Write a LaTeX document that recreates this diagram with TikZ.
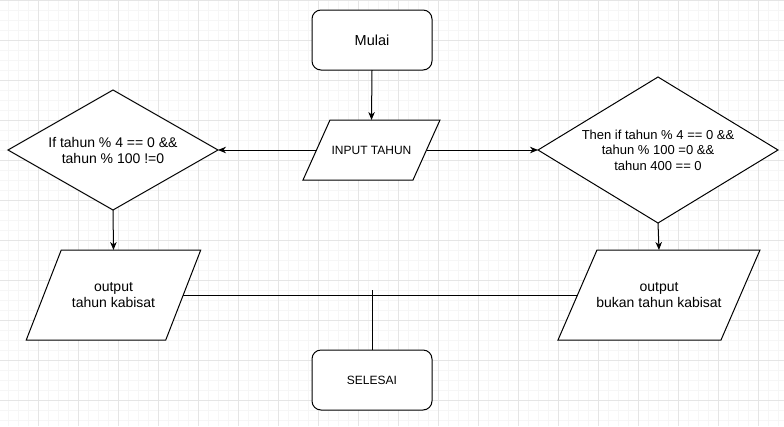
\documentclass[tikz,border=0pt]{standalone}
\usepackage{fontspec}
\setmainfont{Liberation Sans}
\usetikzlibrary{shapes.geometric,arrows.meta}
\definecolor{gridminor}{HTML}{F6F6F6}
\definecolor{gridmajor}{HTML}{E5E5E5}
\pgfdeclarelayer{bg}
\pgfsetlayers{bg,main}
\begin{document}
\begin{tikzpicture}[x=1pt,y=-1pt,
  base/.style={line width=1pt, align=center, text=black, inner sep=0pt, outer sep=0pt},
  term/.style={base, draw=black, fill=white, rounded corners=9pt, minimum width=120pt, minimum height=60pt},
  decision/.style={base, draw=black, fill=white, diamond},
  iobox/.style={base, rectangle},
  para/.style={draw=black, fill=white, line width=1pt, line join=miter},
  conn/.style={draw=black, line width=1pt},
  arr/.style={conn, -{Stealth[length=8pt,width=6.5pt,inset=2.5pt]}}]
\useasboundingbox (0,0) rectangle (784,426);
\begin{pgfonlayer}{bg}
  \fill[white] (0,0) rectangle (784,426);
  \foreach \x in {8,18,...,778} \draw[gridminor, line width=1pt] (\x,0) -- (\x,426);
  \foreach \y in {10,20,...,420} \draw[gridminor, line width=1pt] (0,\y) -- (784,\y);
  \foreach \x in {38,78,...,758} \draw[gridmajor, line width=1pt] (\x,0) -- (\x,426);
  \foreach \y in {0,40,...,400} \draw[gridmajor, line width=1pt] (0,\y) -- (784,\y);
\end{pgfonlayer}

\node[term, font=\fontsize{14.5}{17}\selectfont] (mulai) at (372,40) {Mulai};
\node[iobox, minimum width=110pt, minimum height=60pt, font=\fontsize{12}{14}\selectfont] (input) at (371.5,150) {INPUT TAHUN};
\node[decision, shape aspect=1.75, minimum width=210pt, minimum height=120pt, font=\fontsize{14}{16}\selectfont] (d1) at (113,150) {If tahun \% 4 == 0 \&\&\\tahun \% 100 !=0};
\node[decision, shape aspect=1.64, minimum width=240pt, minimum height=146pt, font=\fontsize{13}{15.5}\selectfont] (d2) at (658,150) {Then if tahun \% 4 == 0 \&\&\\tahun \% 100 =0 \&\&\\tahun 400 == 0};
\node[iobox, minimum width=139.5pt, minimum height=90pt, font=\fontsize{14}{16.5}\selectfont] (o1) at (113.5,295) {output\\tahun kabisat};
\node[iobox, minimum width=163pt, minimum height=90pt, font=\fontsize{14}{16.5}\selectfont] (o2) at (659,295) {output\\bukan tahun kabisat};
\node[term, font=\fontsize{12}{14}\selectfont] (selesai) at (372,380) {SELESAI};
\coordinate (junction) at (372,290);

\begin{pgfonlayer}{bg}
  \path[para] ([xshift=-13.5pt]input.south west) -- ([xshift=13.5pt]input.north west) -- ([xshift=13.5pt]input.north east) -- ([xshift=-13.5pt]input.south east) -- cycle;
  \path[para] ([xshift=-17.5pt]o1.south west) -- ([xshift=17.5pt]o1.north west) -- ([xshift=17.5pt]o1.north east) -- ([xshift=-17.5pt]o1.south east) -- cycle;
  \path[para] ([xshift=-19.5pt]o2.south west) -- ([xshift=19.5pt]o2.north west) -- ([xshift=19.5pt]o2.north east) -- ([xshift=-19.5pt]o2.south east) -- cycle;
\end{pgfonlayer}

\draw[arr] (mulai.south) -- (input.north);
\draw[arr] (input.west) -- (d1.east);
\draw[arr] (input.east) -- (d2.west);
\draw[arr] (d1.south) -- (o1.north);
\draw[arr] (d2.south) -- (o2.north);
\draw[conn] (o1.east) -- (o2.west);
\draw[conn] (junction) -- (selesai.north);
\end{tikzpicture}
\end{document}
